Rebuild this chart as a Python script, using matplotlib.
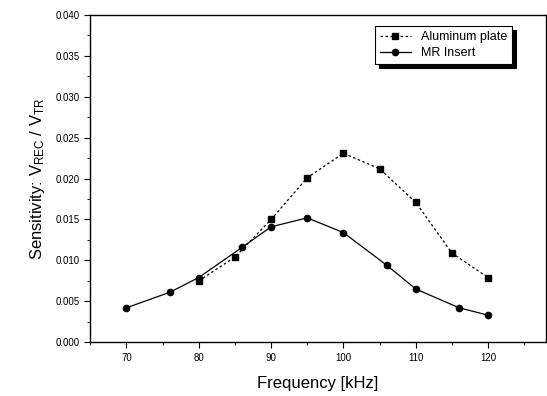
import matplotlib
matplotlib.use("Agg")
import matplotlib.pyplot as plt
from matplotlib.ticker import MultipleLocator, FormatStrFormatter

plt.rcParams['font.family'] = ['Liberation Sans', 'DejaVu Sans']
plt.rcParams['mathtext.fontset'] = 'custom'
plt.rcParams['mathtext.rm'] = 'Liberation Sans'
plt.rcParams['mathtext.it'] = 'Liberation Sans'

# aluminum plate
al_freq = [80, 85, 90, 95, 100, 105, 110, 115, 120]
al_sens = [0.0075, 0.0104, 0.0150, 0.0201, 0.0231, 0.0212, 0.0171, 0.0109, 0.0079]

# MR insert
mr_freq = [70, 76, 80, 86, 90, 95, 100, 106, 110, 116, 120]
mr_sens = [0.0042, 0.0061, 0.0079, 0.0116, 0.0141, 0.0152, 0.0134, 0.0094, 0.0065, 0.0042, 0.0033]

fig = plt.figure(figsize=(5.47, 3.96), dpi=100)
ax = fig.add_axes([0.165, 0.136, 0.833, 0.826])

ax.plot(al_freq, al_sens, color='black', linestyle=(0, (2, 2)), linewidth=0.9,
        marker='s', markersize=4.5, label='Aluminum plate')
ax.plot(mr_freq, mr_sens, color='black', linestyle='-', linewidth=0.9,
        marker='o', markersize=4.5, label='MR Insert')

ax.set_xlim(65, 128)
ax.set_ylim(0, 0.040)
ax.xaxis.set_major_locator(MultipleLocator(10))
ax.xaxis.set_minor_locator(MultipleLocator(5))
ax.yaxis.set_major_locator(MultipleLocator(0.005))
ax.yaxis.set_minor_locator(MultipleLocator(0.0025))
ax.yaxis.set_major_formatter(FormatStrFormatter('%.3f'))
ax.tick_params(which='both', direction='out', labelsize=7, top=False, right=False)
ax.tick_params(which='major', length=4)
ax.tick_params(which='minor', length=2)
for s in ax.spines.values():
    s.set_linewidth(1.0)

ax.set_xlabel('Frequency [kHz]', fontsize=12, labelpad=10)
ax.set_ylabel('Sensitivity: V$_{REC}$ / V$_{TR}$', fontsize=12, labelpad=6)

leg = ax.legend(loc='upper right', bbox_to_anchor=(0.94, 0.985), fontsize=9,
                frameon=True, shadow={'color': 'black', 'alpha': 1.0, 'ox': 3, 'oy': -3},
                fancybox=False, handlelength=2.5,
                borderpad=0.4, labelspacing=0.3)
leg.get_frame().set_edgecolor('black')
leg.get_frame().set_linewidth(0.8)

fig.savefig('out.png', dpi=100)
